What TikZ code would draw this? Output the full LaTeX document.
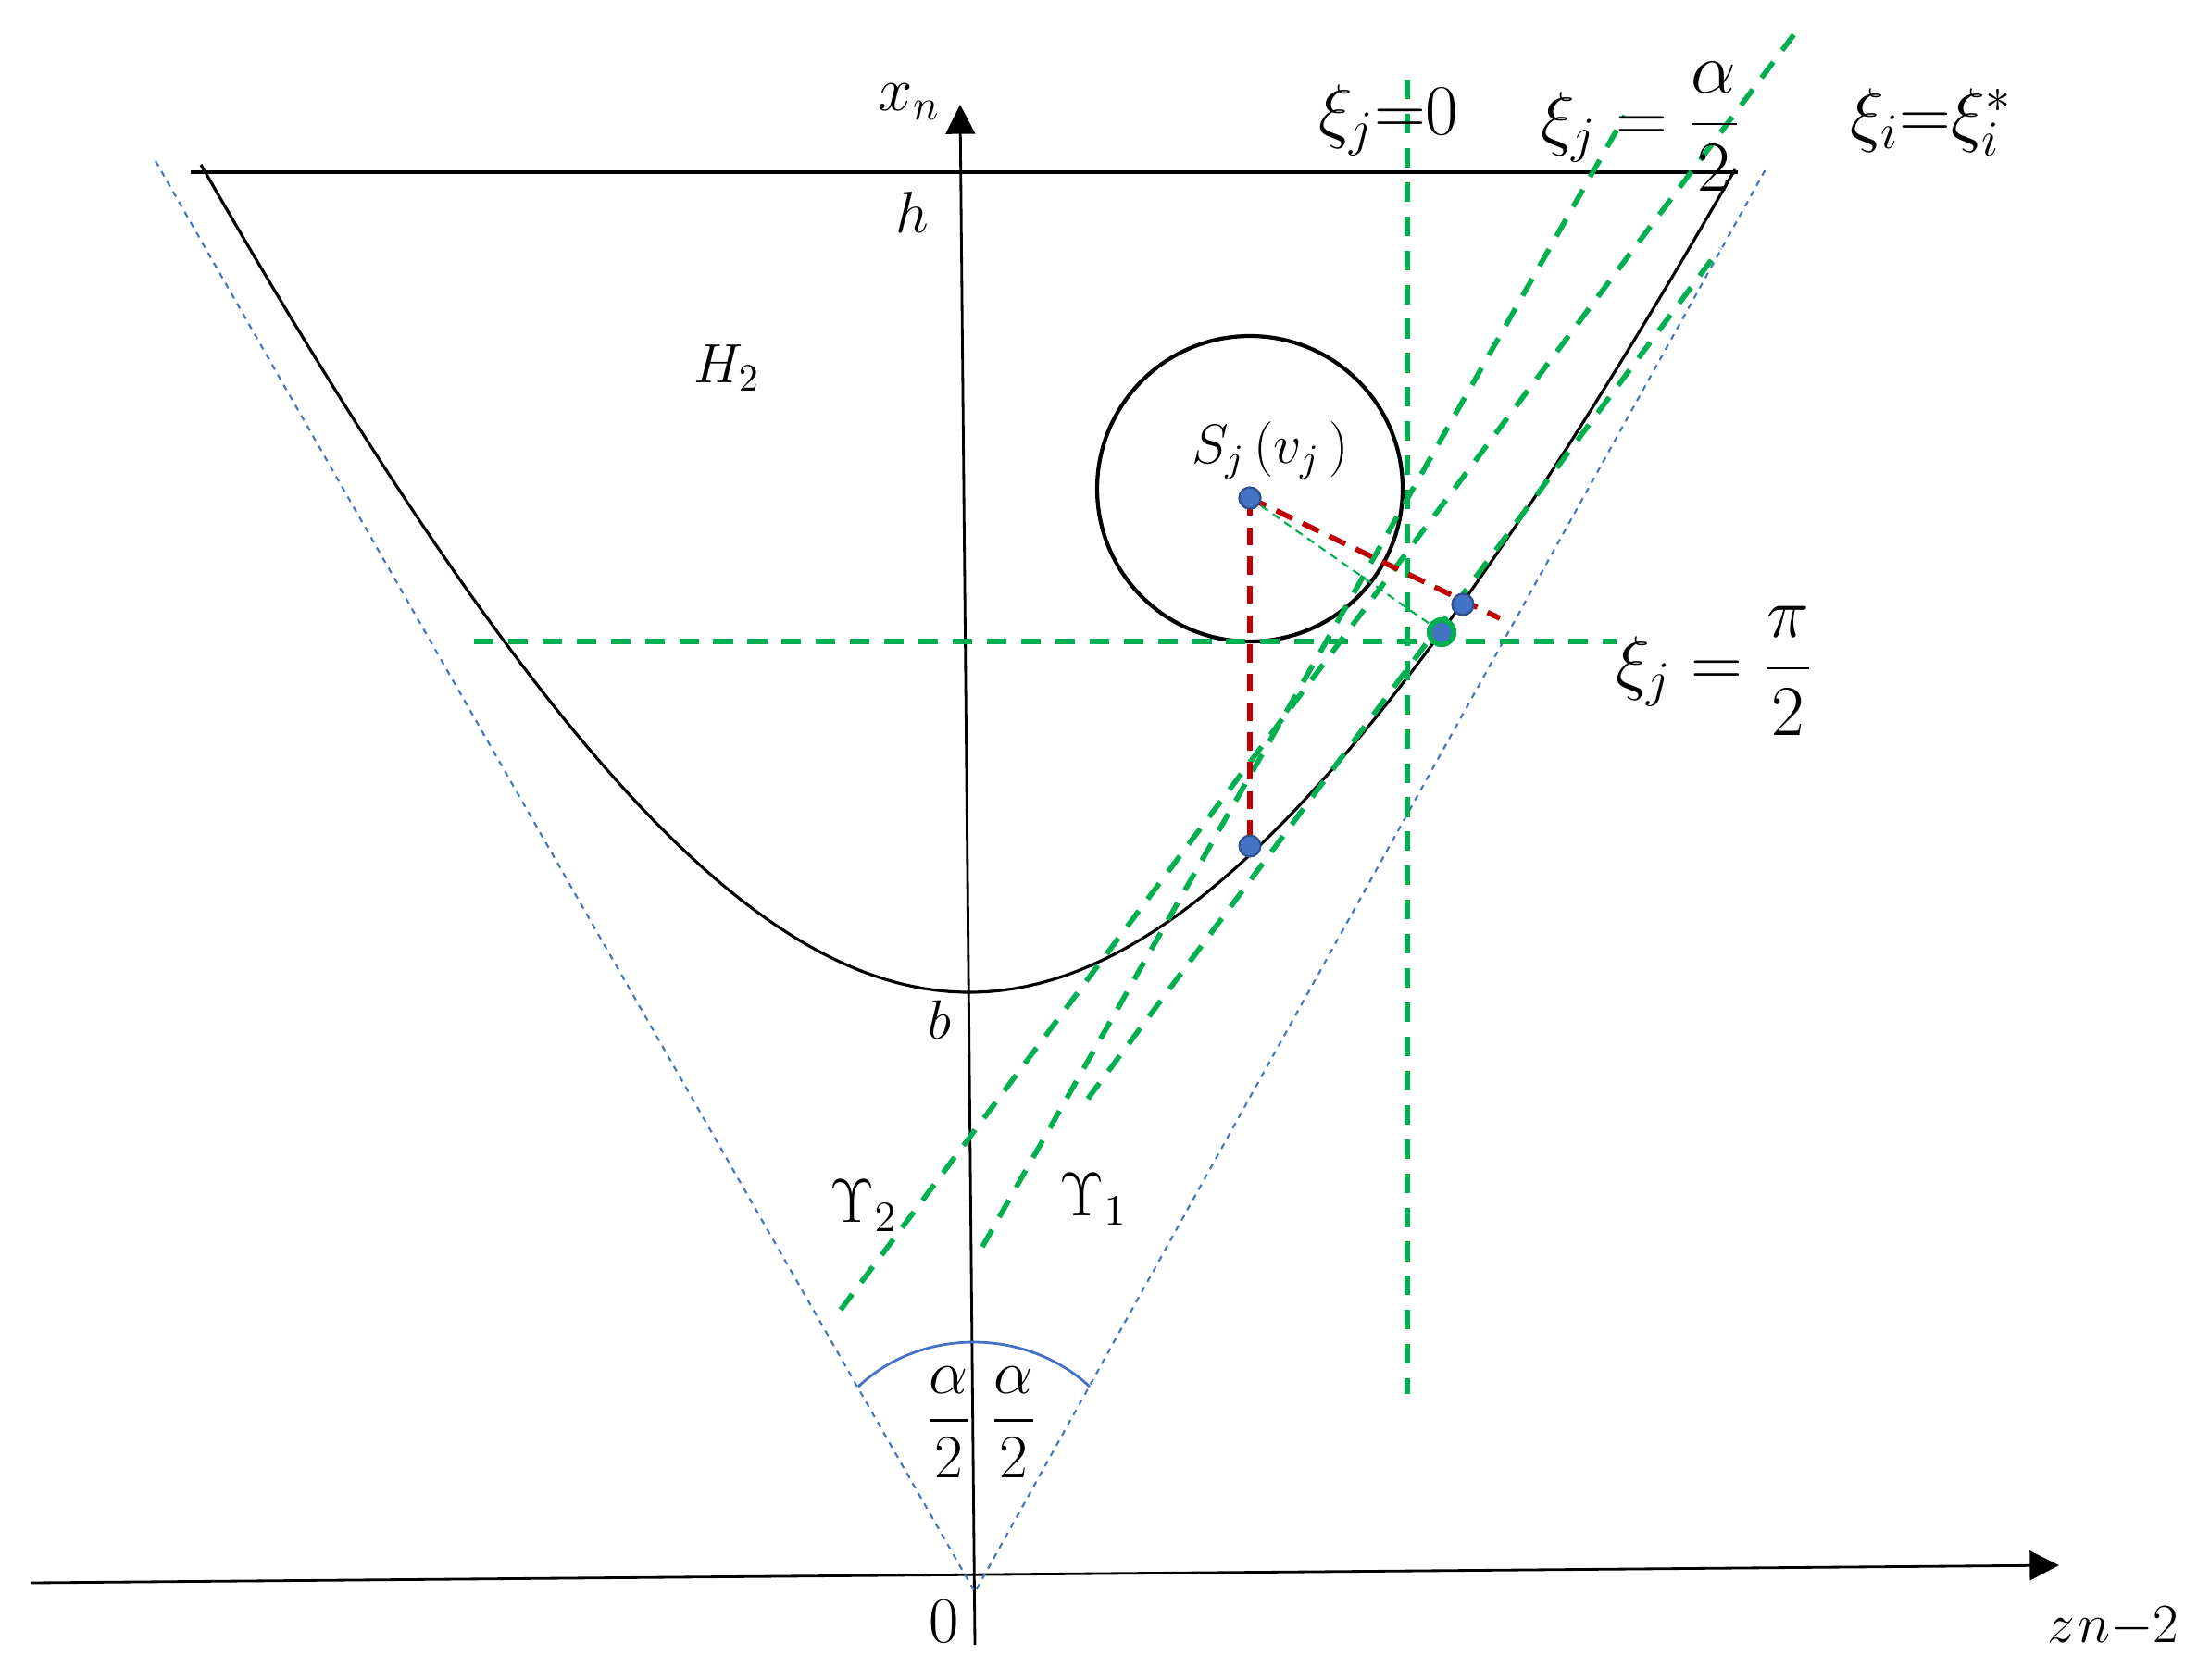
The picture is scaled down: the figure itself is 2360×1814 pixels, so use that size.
\RequirePackage{fix-cm}
\documentclass[tikz,border=0pt]{standalone}
\usepackage{amsmath}
\usetikzlibrary{arrows.meta}
\definecolor{ogreen}{HTML}{00B050}
\definecolor{ored}{HTML}{C00000}
\definecolor{oblue}{HTML}{4472C4}
\definecolor{odblue}{HTML}{2F528F}
\tikzset{
  axisline/.style={line width=0.8pt,-{Triangle[length=9pt,width=9pt]}},
  gdash/.style={ogreen,line width=1.6pt,dash pattern=on 6pt off 4.5pt},
  rdash/.style={ored,line width=1.6pt,dash pattern=on 5.5pt off 3.5pt},
  bdots/.style={oblue,line width=0.6pt,dash pattern=on 1.8pt off 1.8pt},
  gthin/.style={ogreen,line width=0.6pt,dash pattern=on 2.5pt off 1.8pt},
  bluept/.style={circle,fill=oblue,draw=odblue,line width=0.6pt,inner sep=0pt,minimum size=6.5pt},
  greenpt/.style={circle,fill=oblue,draw=ogreen,line width=1.6pt,inner sep=0pt,minimum size=7.5pt},
  lab/.style={inner sep=0pt},
  fs/.style={font=\fontsize{#1}{#1}\selectfont}
}
\begin{document}
\begin{tikzpicture}[x=0.01cm,y=-0.01cm]
\useasboundingbox (0,0) rectangle (2360,1814);
% axes
\coordinate (hl) at (33,1710);
\coordinate (hr) at (2224,1691);
\coordinate (vb) at (1053,1777);
\coordinate (vt) at (1037,113);
\draw[axisline] (hl) -- (hr);
\draw[axisline] (vb) -- (vt);
% top line
\coordinate (tl) at (206,186);
\coordinate (tr) at (1877,186);
\draw[line width=1.2pt] (tl) -- (tr);
% curve
\draw[line width=0.9pt] plot[domain=-830:827,samples=120] ({1047+\x},{1072-1445*(sqrt(1+(\x/652)^2)-1)});
% cone
\coordinate (cl) at (168,174);
\coordinate (cv) at (1053,1720);
\coordinate (cr) at (1907,183);
\draw[bdots] (cl) -- (cv) -- (cr);
\coordinate (al) at (927,1498);
\coordinate (ar) at (1177,1498);
\draw[oblue,line width=0.8pt] (al) .. controls (995,1434) and (1108,1434) .. (ar);
% circle
\coordinate (S) at (1350,528);
\draw[line width=1.2pt] (S) circle[radius=165];
% green dashed lines
\coordinate (v0a) at (1520,86);   \coordinate (v0b) at (1520,1506);
\coordinate (h0a) at (512,693);   \coordinate (h0b) at (1746,693);
\coordinate (la1) at (908,1415);  \coordinate (la2) at (1946,26);
\coordinate (lb1) at (1061,1347); \coordinate (lb2) at (1755,125);
\coordinate (lc1) at (1175,1187); \coordinate (lc2) at (1858,268);
\draw[gdash] (v0a) -- (v0b);
\draw[gdash] (h0a) -- (h0b);
\draw[gdash] (la1) -- (la2);
\draw[gdash] (lb1) -- (lb2);
\draw[gdash] (lc1) -- (lc2);
% points
\node[bluept] (pc) at (1350,538) {};
\node[bluept] (pb) at (1350,914) {};
\node[bluept] (pr) at (1580,653) {};
\node[greenpt] (pg) at (1557,683) {};
\coordinate (rend) at (1620,668);
\draw[rdash] (pc.center) -- (pb.north);
\draw[rdash] (pc.center) -- (rend);
\draw[gthin] (pc.center) -- (pg.center);
\node[bluept] at (pc) {};
\node[bluept] at (pr) {};
\node[greenpt] at (pg) {};
% labels
\node[lab,fs=19pt] (lxn) at (982,110) {$x_n$};
\node[lab,fs=18pt] (lh) at (985,230) {$h$};
\node[lab,fs=17pt] (lH) at (785,398) {$H_2$};
\node[lab,fs=17pt] (lb) at (1015,1102) {$b$};
\node[lab,fs=17pt] (lS) at (1372,487) {$S_j\,(v_j\,)$};
\node[lab,fs=22pt] (lx0) at (1500,130) {$\xi_j{=}0$};
\node[lab,fs=22pt] (lxa) at (1772,137) {$\xi_j = \dfrac{\alpha}{2}$};
\node[lab,fs=22pt] (lxi) at (2086,132) {$\xi_i{=}\xi_i^*$};
\node[lab,fs=22pt] (lxp) at (1852,725) {$\xi_j = \dfrac{\pi}{2}$};
\node[lab,fs=19pt] (lU2) at (933,1303) {$\Upsilon_2$};
\node[lab,fs=19pt] (lU1) at (1181,1296) {$\Upsilon_1$};
\node[lab,fs=19pt] (la1l) at (1025,1537) {$\dfrac{\alpha}{2}$};
\node[lab,fs=19pt] (la2l) at (1095,1537) {$\dfrac{\alpha}{2}$};
\node[lab,fs=20pt] (l0) at (1020,1752) {$0$};
\node[lab,fs=17pt] (lz) at (2282,1758) {$z\mkern1mu n{-}2$};
\end{tikzpicture}
\end{document}
